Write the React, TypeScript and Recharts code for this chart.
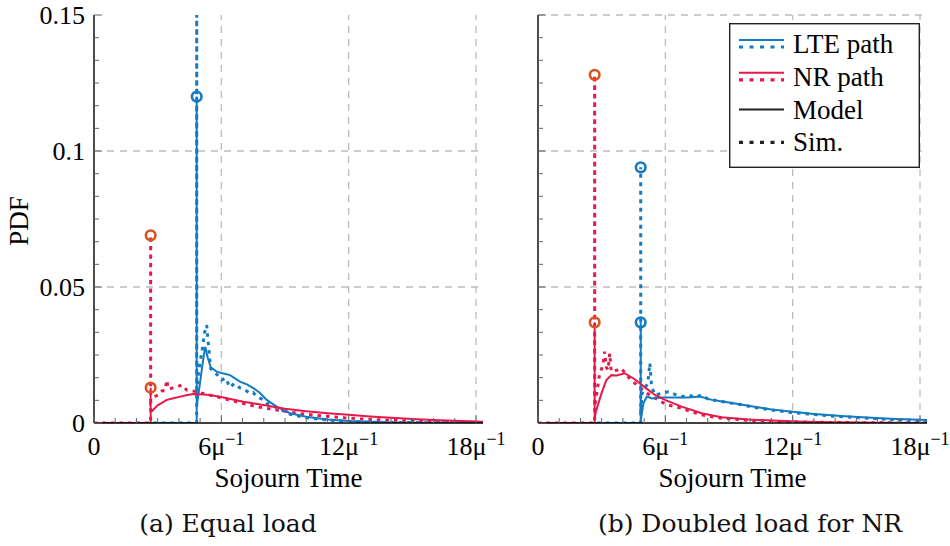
import React from "react";
import { ComposedChart, Line, XAxis, YAxis, ReferenceLine, ReferenceDot } from "recharts";

// axis ranges and ticks
const X_MAX = 18.33;
const Y_MAX = 0.15;
const xTicks = [0, 1, 2, 3, 4, 5, 6, 7, 8, 9, 10, 11, 12, 13, 14, 15, 16, 17, 18];
const xMajor = [0, 6, 12, 18];
const yTicks = Array.from({ length: 19 }, (_, i) => +((i * 0.05) / 6).toFixed(6));
const yMajorLabels: Record<string, string> = { "0": "0", "0.05": "0.05", "0.1": "0.1", "0.15": "0.15" };
const gridX = [6, 12, 18];
const gridYA = [0.05, 0.1];
const gridYB = [0.05, 0.1, 0.15];

// (a) Equal load: [sojourn time, pdf]
const aLteModel = [
  [0, 0], [4.84, 0], [4.84, 0.12], [4.84, 0.006], [5.0, 0.015], [5.12, 0.022], [5.24, 0.028],
  [5.36, 0.024], [5.5, 0.0205], [5.78, 0.0189], [6.1, 0.0182], [6.41, 0.0176], [6.88, 0.0152],
  [7.2, 0.0142], [7.51, 0.0128], [7.8, 0.0112], [8.14, 0.0085], [8.61, 0.006], [9.24, 0.0036],
  [10.0, 0.0023], [11, 0.0013], [12, 0.0007], [14, 0.0002], [16, 0.0001], [18.33, 0],
];
const aLteSim = [
  [2.8, 0], [4.84, 0], [4.84, 0.2], [4.84, 0.012], [4.95, 0.02], [5.1, 0.027], [5.2, 0.033],
  [5.31, 0.036], [5.4, 0.028], [5.5, 0.02], [5.65, 0.0185], [5.8, 0.0178], [6.02, 0.0158],
  [6.2, 0.0165], [6.41, 0.0131], [6.6, 0.0145], [6.9, 0.0128], [7.1, 0.0122], [7.36, 0.0109],
  [7.5, 0.0112], [7.67, 0.0097], [7.9, 0.0088], [8.14, 0.0072], [8.4, 0.0066], [8.61, 0.0055],
  [8.9, 0.0046], [9.24, 0.0032], [9.5, 0.0028], [9.87, 0.0021], [10.5, 0.0015], [11, 0.0011],
  [12, 0.0006], [13, 0.0003], [14, 0.0002], [16, 0.0001], [18.33, 0],
];
const aNrModel = [
  [0, 0], [2.67, 0], [2.67, 0.013], [2.67, 0.004], [2.75, 0.0045], [3.0, 0.0065], [3.43, 0.0085],
  [3.8, 0.0092], [4.06, 0.0097], [4.4, 0.0103], [4.69, 0.0107], [5.0, 0.0106], [5.47, 0.0103],
  [6.1, 0.0094], [7.04, 0.0078], [7.99, 0.0066], [9.0, 0.0052], [10, 0.0043], [11, 0.0036],
  [12, 0.003], [13, 0.0024], [14, 0.0019], [15, 0.0015], [16, 0.0011], [17, 0.0008], [18.33, 0.0005],
];
const aNrSim = [
  [0, 0], [2.67, 0], [2.67, 0.069], [2.67, 0.008], [2.8, 0.0095], [3.03, 0.0103], [3.2, 0.0118],
  [3.35, 0.012], [3.43, 0.0158], [3.5, 0.0125], [3.66, 0.0128], [3.9, 0.0132], [4.13, 0.014],
  [4.37, 0.0121], [4.6, 0.0118], [4.84, 0.0115], [5.3, 0.0105], [5.78, 0.0097], [6.25, 0.0087],
  [6.72, 0.0078], [7.2, 0.0069], [7.67, 0.006], [8.14, 0.0054], [8.61, 0.0048], [9.1, 0.0042],
  [9.55, 0.0036], [10.5, 0.0028], [11.5, 0.0021], [12.5, 0.0015], [14, 0.001], [16, 0.0005],
  [18.33, 0.0002],
];
const aLteMarks = [[4.84, 0.12]];
const aNrMarks = [[2.67, 0.069], [2.67, 0.013]];

// (b) Doubled load for NR
const bLteModel = [
  [0, 0], [4.84, 0], [4.84, 0.037], [4.84, 0.001], [4.97, 0.0072], [5.13, 0.0097], [5.37, 0.009],
  [5.84, 0.0094], [6.46, 0.0094], [7.09, 0.0094], [7.64, 0.0097], [8.19, 0.0085], [8.7, 0.0079],
  [9.29, 0.0072], [10.2, 0.006], [11, 0.005], [11.9, 0.0042], [13, 0.0033], [14.3, 0.0026],
  [15.5, 0.002], [16.6, 0.0016], [18.33, 0.0011],
];
const bLteSim = [
  [2.8, 0], [4.84, 0], [4.84, 0.094], [4.84, 0.004], [4.9, 0.0109], [5.05, 0.013], [5.17, 0.0145],
  [5.27, 0.022], [5.35, 0.0135], [5.51, 0.0103], [5.8, 0.0108], [6.14, 0.0115], [6.45, 0.0105],
  [6.77, 0.0097], [7.1, 0.0102], [7.4, 0.0095], [7.71, 0.0103], [8.0, 0.0088], [8.3, 0.0084],
  [8.65, 0.0079], [9.1, 0.0073], [9.6, 0.0067], [10.2, 0.0057], [10.8, 0.005], [11.4, 0.0044],
  [12, 0.0038], [12.6, 0.0034], [13.3, 0.0029], [14, 0.0025], [14.8, 0.0021], [15.6, 0.0017],
  [16.4, 0.0014], [17.2, 0.0011], [18.33, 0.0008],
];
const bNrModel = [
  [0, 0], [2.67, 0], [2.67, 0.037], [2.67, 0.002], [2.75, 0.0048], [2.99, 0.0109], [3.22, 0.0158],
  [3.46, 0.0176], [3.7, 0.0175], [4.09, 0.0183], [4.57, 0.016], [5.04, 0.0131], [5.51, 0.0103],
  [5.98, 0.0085], [6.77, 0.006], [7.71, 0.0036], [8.65, 0.0021], [9.9, 0.0013], [11, 0.0009],
  [12.5, 0.0005], [14, 0.0003], [16, 0.0001], [18.33, 0],
];
const bNrSim = [
  [0, 0], [2.67, 0], [2.67, 0.128], [2.67, 0.006], [2.75, 0.0097], [2.9, 0.018], [3.06, 0.0213],
  [3.14, 0.0262], [3.22, 0.0205], [3.3, 0.0195], [3.38, 0.0256], [3.45, 0.019], [3.53, 0.019],
  [3.75, 0.0195], [3.93, 0.0201], [4.17, 0.0176], [4.37, 0.016], [4.57, 0.0146], [4.8, 0.013],
  [5.04, 0.0115], [5.27, 0.0103], [5.51, 0.0092], [5.8, 0.0078], [6.14, 0.0066], [6.45, 0.006],
  [6.77, 0.0054], [7.2, 0.0042], [7.71, 0.003], [8.2, 0.0023], [8.65, 0.0018], [9.9, 0.001],
  [11, 0.0006], [13, 0.0003], [15, 0.0001], [18.33, 0],
];
const bLteMarks = [[4.84, 0.094], [4.84, 0.037]];
const bNrMarks = [[2.67, 0.128], [2.67, 0.037]];

const LTE = "#137bc3";
const NR = "#e6194b";
const NR_MARK = "#d9541e";
const SERIF = "Liberation Serif, DejaVu Serif";
const SIM_DASH = "3.5 5";

const pts = (arr: number[][]) => arr.map(([x, y]) => ({ x, y }));
const isMajorY = (v: number) => Math.abs(v / 0.05 - Math.round(v / 0.05)) < 1e-4;
const txt = { fontFamily: SERIF, fontSize: 26 };

function BottomTick(props: any) {
  const { x, y, payload } = props;
  const v = payload.value;
  const major = xMajor.includes(v);
  return (
    <g>
      <line x1={x} x2={x} y1={y} y2={y - (major ? 8 : 5)} stroke="#666" strokeWidth={1} />
      {major && (
        <text x={x} y={y + 32} textAnchor="middle" style={txt} fill="#000">
          {v === 0 ? (
            "0"
          ) : (
            <>
              <tspan>{v}μ</tspan>
              <tspan dy={-10} style={{ fontSize: 18 }}>−1</tspan>
            </>
          )}
        </text>
      )}
    </g>
  );
}

function TopTick(props: any) {
  const { x, y, payload } = props;
  const major = xMajor.includes(payload.value);
  return <line x1={x} x2={x} y1={y} y2={y + (major ? 8 : 5)} stroke="#666" strokeWidth={1} />;
}

function LeftTick(props: any) {
  const { x, y, payload, showLabel } = props;
  const v = payload.value;
  const major = isMajorY(v);
  const key = String(+v.toFixed(2));
  return (
    <g>
      <line x1={x} x2={x + (major ? 8 : 5)} y1={y} y2={y} stroke="#666" strokeWidth={1} />
      {showLabel && major && (
        <text x={x - 9} y={y} dy="0.33em" textAnchor="end" style={txt} fill="#000">
          {yMajorLabels[key]}
        </text>
      )}
    </g>
  );
}

function RightTick(props: any) {
  const { x, y, payload } = props;
  const major = isMajorY(payload.value);
  return <line x1={x} x2={x - (major ? 8 : 5)} y1={y} y2={y} stroke="#666" strokeWidth={1} />;
}

interface PanelProps {
  left: number;
  lteModel: number[][];
  lteSim: number[][];
  nrModel: number[][];
  nrSim: number[][];
  lteMarks: number[][];
  nrMarks: number[][];
  gridY: number[];
  showYLabels: boolean;
}

function Panel({ left, lteModel, lteSim, nrModel, nrSim, lteMarks, nrMarks, gridY, showYLabels }: PanelProps) {
  const axisLine = { stroke: "#000", strokeWidth: 1.4 };
  const ids = { xAxisId: "b", yAxisId: "l" };
  return (
    <div style={{ position: "absolute", left, top: 0 }}>
      <ComposedChart width={520} height={546} margin={{ top: 15, right: 37, bottom: 0, left: 0 }}>
        <XAxis
          xAxisId="b"
          dataKey="x"
          type="number"
          domain={[0, X_MAX]}
          ticks={xTicks}
          interval={0}
          tickSize={0}
          tickMargin={0}
          tickLine={false}
          axisLine={axisLine}
          height={123}
          allowDataOverflow
          tick={(p: any) => <BottomTick {...p} />}
          label={(p: any) => {
            const vb = p.viewBox;
            return (
              <text x={vb.x + vb.width / 2} y={vb.y + 64} textAnchor="middle" style={{ ...txt, fontSize: 27 }} fill="#000">
                Sojourn Time
              </text>
            );
          }}
        />
        <XAxis
          xAxisId="t"
          orientation="top"
          dataKey="x"
          type="number"
          domain={[0, X_MAX]}
          ticks={xTicks}
          interval={0}
          tickSize={0}
          tickMargin={0}
          tickLine={false}
          axisLine={axisLine}
          height={0}
          allowDataOverflow
          tick={(p: any) => <TopTick {...p} />}
        />
        <YAxis
          yAxisId="l"
          dataKey="y"
          type="number"
          domain={[0, Y_MAX]}
          ticks={yTicks}
          interval={0}
          tickSize={0}
          tickMargin={0}
          tickLine={false}
          axisLine={axisLine}
          width={94}
          allowDataOverflow
          tick={(p: any) => <LeftTick {...p} showLabel={showYLabels} />}
          label={(p: any) => {
            if (!showYLabels) return null;
            const vb = p.viewBox;
            const cy = vb.y + vb.height / 2 + 2;
            return (
              <text x={19} y={cy} textAnchor="middle" dy="0.33em" transform={`rotate(-90 19 ${cy})`} style={{ ...txt, fontSize: 27 }} fill="#000">
                PDF
              </text>
            );
          }}
        />
        <YAxis
          yAxisId="r"
          orientation="right"
          dataKey="y"
          type="number"
          domain={[0, Y_MAX]}
          ticks={yTicks}
          interval={0}
          tickSize={0}
          tickMargin={0}
          tickLine={false}
          axisLine={axisLine}
          width={0}
          allowDataOverflow
          tick={(p: any) => <RightTick {...p} />}
        />
        {gridX.map((v) => (
          <ReferenceLine key={`gx${v}`} {...ids} x={v} stroke="#bdbdbd" strokeWidth={1.3} strokeDasharray="7 6" />
        ))}
        {gridY.map((v) => (
          <ReferenceLine key={`gy${v}`} {...ids} y={v} stroke="#bdbdbd" strokeWidth={1.3} strokeDasharray="7 6" />
        ))}
        <Line {...ids} data={pts(nrSim)} dataKey="y" type="linear" stroke={NR} strokeWidth={3} strokeDasharray={SIM_DASH} dot={false} isAnimationActive={false} />
        <Line {...ids} data={pts(lteSim)} dataKey="y" type="linear" stroke={LTE} strokeWidth={3} strokeDasharray={SIM_DASH} dot={false} isAnimationActive={false} />
        <Line {...ids} data={pts(lteModel)} dataKey="y" type="linear" stroke={LTE} strokeWidth={2} dot={false} isAnimationActive={false} />
        <Line {...ids} data={pts(nrModel)} dataKey="y" type="linear" stroke={NR} strokeWidth={2} dot={false} isAnimationActive={false} />
        {nrMarks.map(([x, y], i) => (
          <ReferenceDot key={`nm${i}`} {...ids} x={x} y={y} r={4.8} fill="none" stroke={NR_MARK} strokeWidth={2.6} />
        ))}
        {lteMarks.map(([x, y], i) => (
          <ReferenceDot key={`lm${i}`} {...ids} x={x} y={y} r={4.8} fill="none" stroke={LTE} strokeWidth={2.6} />
        ))}
      </ComposedChart>
    </div>
  );
}

const legendRows = [
  { label: "LTE path", color: LTE, solid: true, dotted: true },
  { label: "NR path", color: NR, solid: true, dotted: true },
  { label: "Model", color: "#222", solid: true, dotted: false },
  { label: "Sim.", color: "#222", solid: false, dotted: true },
];

function LegendBox() {
  return (
    <svg style={{ position: "absolute", left: 729, top: 23 }} width={191} height={145}>
      <rect x={0.7} y={0.7} width={189.6} height={143.6} fill="#fff" stroke="#222" strokeWidth={1.4} />
      {legendRows.map((r, i) => {
        const cy = 21 + i * 32.8;
        const both = r.solid && r.dotted;
        return (
          <g key={r.label}>
            {r.solid && <line x1={10} x2={55} y1={both ? cy - 4 : cy} y2={both ? cy - 4 : cy} stroke={r.color} strokeWidth={2} />}
            {r.dotted && (
              <line x1={10} x2={55} y1={both ? cy + 3 : cy} y2={both ? cy + 3 : cy} stroke={r.color} strokeWidth={3.2} strokeDasharray="4 6.5" />
            )}
            <text x={64} y={cy} dy="0.33em" style={{ ...txt, fontSize: 27 }} fill="#000">
              {r.label}
            </text>
          </g>
        );
      })}
    </svg>
  );
}

const captionStyle: React.CSSProperties = {
  position: "absolute",
  top: 509,
  fontFamily: "DejaVu Serif",
  fontSize: 25,
  lineHeight: "30px",
  textAlign: "center",
  color: "#111",
  whiteSpace: "nowrap",
};

export default function App() {
  return (
    <div style={{ position: "absolute", left: 0, top: 0, width: 950, height: 546, background: "#fff", overflow: "hidden" }}>
      <Panel
        left={0}
        lteModel={aLteModel}
        lteSim={aLteSim}
        nrModel={aNrModel}
        nrSim={aNrSim}
        lteMarks={aLteMarks}
        nrMarks={aNrMarks}
        gridY={gridYA}
        showYLabels
      />
      <Panel
        left={444}
        lteModel={bLteModel}
        lteSim={bLteSim}
        nrModel={bNrModel}
        nrSim={bNrSim}
        lteMarks={bLteMarks}
        nrMarks={bNrMarks}
        gridY={gridYB}
        showYLabels={false}
      />
      <LegendBox />
      <div style={{ ...captionStyle, left: 28, width: 400 }}>(a) Equal load</div>
      <div style={{ ...captionStyle, left: 550, width: 400 }}>(b) Doubled load for NR</div>
    </div>
  );
}
